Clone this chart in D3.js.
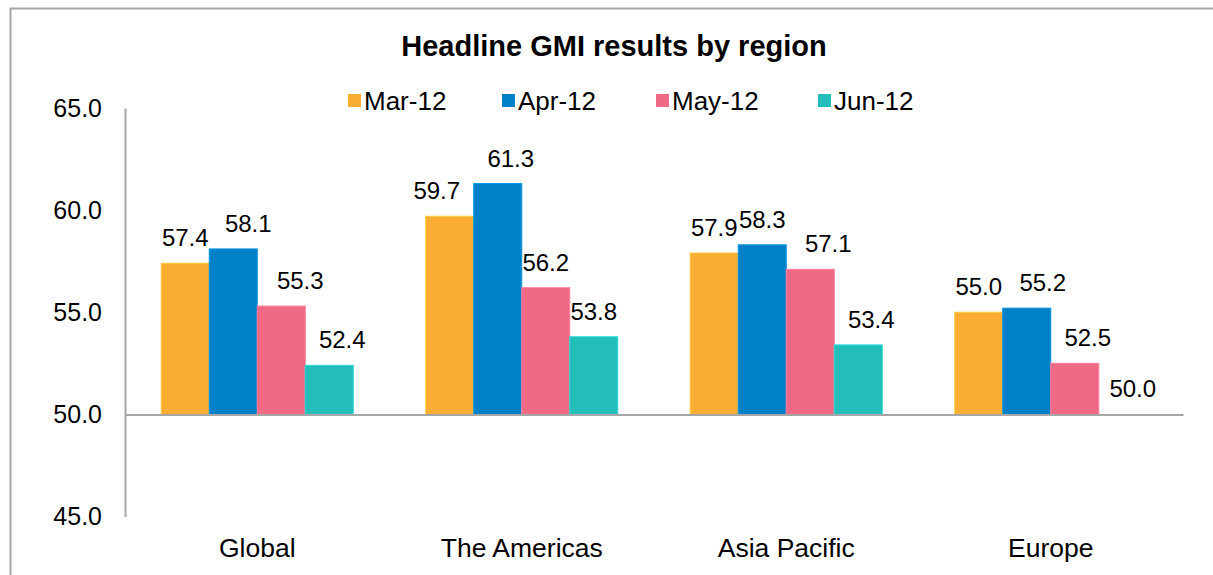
<!DOCTYPE html>
<html>
<head>
<meta charset="utf-8">
<script src="https://cdn.jsdelivr.net/npm/d3@7"></script>
<style>
  body { margin: 0; background: #fff; }
  svg { display: block; font-family: "Liberation Sans", Arial, sans-serif; }
</style>
</head>
<body>
<div id="chart"></div>
<script>
// data
const regions = ["Global", "The Americas", "Asia Pacific", "Europe"];
const months = ["Mar-12", "Apr-12", "May-12", "Jun-12"];
const mar12 = [57.4, 59.7, 57.9, 55.0];
const apr12 = [58.1, 61.3, 58.3, 55.2];
const may12 = [55.3, 56.2, 57.1, 52.5];
const jun12 = [52.4, 53.8, 53.4, 50.0];
const yTicks = [45, 50, 55, 60, 65];
const colors = ["#F9AE33", "#0080C6", "#F06A85", "#23BEBA"];

// label nudges (px) as placed in the original, per region / month
const labelNudge = [
  [0, 15, 19, 13],
  [-13, 13, 0, 0],
  [0, 0, 18, 13],
  [0, 16, 13, 10]
];

const series = [mar12, apr12, may12, jun12];
const rows = regions.map((r, i) => ({
  region: r,
  values: months.map((m, j) => ({ month: m, value: series[j][i], dx: labelNudge[i][j] }))
}));

const width = 1213, height = 575;
const margin = { top: 108, right: 30, bottom: 59, left: 125 };

const svg = d3.select("#chart").append("svg")
  .attr("width", width)
  .attr("height", height);

// outer frame
svg.append("rect")
  .attr("x", 10.5).attr("y", 8.5)
  .attr("width", width + 20).attr("height", height + 20)
  .attr("fill", "none")
  .attr("stroke", "#A6A6A6")
  .attr("stroke-width", 2);

const x0 = d3.scaleBand()
  .domain(regions)
  .range([margin.left, width - margin.right])
  .padding(0);

const x1 = d3.scaleBand()
  .domain(months)
  .range([0, x0.bandwidth()])
  .paddingInner(0)
  .paddingOuter(0.755);

const y = d3.scaleLinear()
  .domain([45, 65])
  .range([height - margin.bottom + 0.5, margin.top]);

const color = d3.scaleOrdinal().domain(months).range(colors);

// title
svg.append("text")
  .attr("x", 614).attr("y", 56)
  .attr("text-anchor", "middle")
  .style("font-size", "29px")
  .style("font-weight", "bold")
  .text("Headline GMI results by region");

// legend
const legendX = [348, 502, 656, 818];
const legend = svg.append("g");
months.forEach(function (m, i) {
  const g = legend.append("g").attr("transform", "translate(" + legendX[i] + ",94)");
  g.append("rect").attr("width", 13).attr("height", 13).attr("fill", color(m));
  g.append("text")
    .attr("x", 16).attr("y", 7)
    .attr("dominant-baseline", "central")
    .style("font-size", "26px")
    .text(m);
});

// y axis
const yAxis = svg.append("g")
  .attr("transform", "translate(" + margin.left + ",0)")
  .call(d3.axisLeft(y).tickValues(yTicks).tickSize(0).tickPadding(23).tickFormat(d3.format(".1f")));
yAxis.select(".domain").attr("stroke", "#A6A6A6").attr("stroke-width", 2);
yAxis.selectAll("text")
  .style("font-size", "25px")
  .style("font-family", "'Liberation Sans', Arial, sans-serif")
  .attr("fill", "#000");

// bars
const groups = svg.append("g").selectAll("g")
  .data(rows)
  .join("g")
  .attr("transform", d => "translate(" + x0(d.region) + ",0)");

groups.selectAll("rect")
  .data(d => d.values)
  .join("rect")
  .attr("x", d => x1(d.month))
  .attr("y", d => y(d.value))
  .attr("width", x1.bandwidth())
  .attr("height", d => y(50) - y(d.value))
  .attr("fill", d => color(d.month))
  .attr("stroke", d => d3.color(color(d.month)).brighter(0.4))
  .attr("stroke-width", 1);

groups.selectAll("text")
  .data(d => d.values)
  .join("text")
  .attr("x", d => x1(d.month) + x1.bandwidth() / 2 + d.dx)
  .attr("y", d => y(d.value) - 17)
  .attr("text-anchor", "middle")
  .style("font-size", "24px")
  .text(d => d.value.toFixed(1));

// x axis at 50
const xAxis = svg.append("g")
  .attr("transform", "translate(0," + y(50) + ")")
  .call(d3.axisBottom(x0).tickSize(0).tickPadding(0).tickSizeOuter(0));
xAxis.select(".domain").attr("stroke", "#A6A6A6").attr("stroke-width", 2);
xAxis.selectAll("text")
  .attr("y", 143)
  .attr("dy", 0)
  .style("font-size", "26.5px")
  .style("font-family", "'Liberation Sans', Arial, sans-serif")
  .attr("fill", "#000");
</script>
</body>
</html>
